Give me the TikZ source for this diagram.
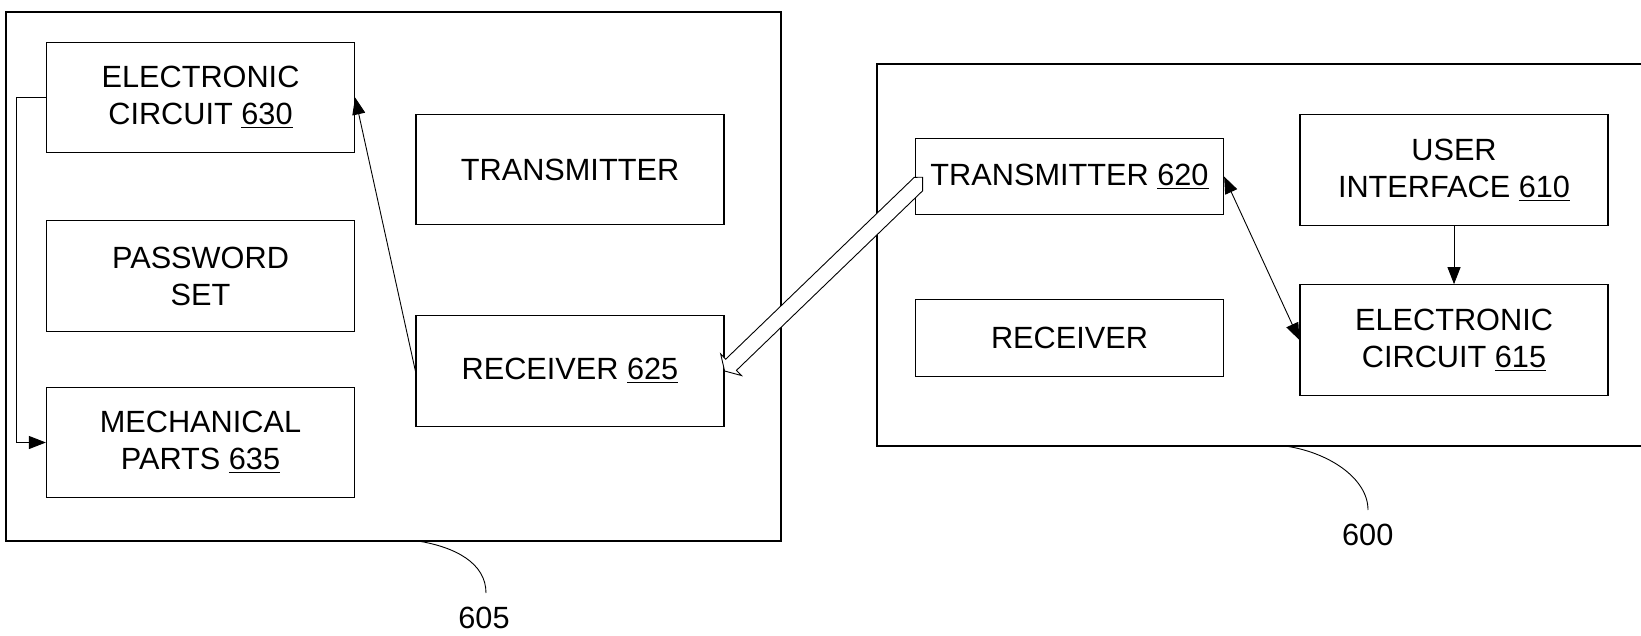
\documentclass[tikz,border=0pt]{standalone}
\usepackage{fontspec}
\setmainfont{Liberation Sans}
\usetikzlibrary{arrows.meta,calc}
\newcommand{\diafont}{\fontsize{15.35pt}{18.5pt}\selectfont}
\begin{document}
\begin{tikzpicture}[x=0.5pt,y=-0.5pt,
  box/.style={draw, line width=0.6pt, inner sep=0pt, align=center, font=\diafont},
  wide/.style={minimum width=154pt},
  tall/.style={minimum height=55.25pt},
  short/.style={minimum height=38.25pt},
  frame/.style={draw, line width=0.6pt},
  arr/.style={line width=0.45pt, -{Triangle[length=8.5pt,width=6.5pt]}},
  arrboth/.style={line width=0.45pt, {Triangle[length=8.5pt,width=6.5pt]}-{Triangle[length=8.5pt,width=6.5pt]}},
  leader/.style={line width=0.45pt},
  lbl/.style={inner sep=0pt, font=\diafont}
]
\useasboundingbox (0,0) rectangle (1641,636);

% outer frames
\draw[frame] (6,12) rectangle (781,541);
\coordinate (rtl) at (1641,64);
\coordinate (rbl) at (1641,446);
\draw[frame] (rtl) -- (877,64) -- (877,446) -- (rbl);

% left device boxes
\node[box, wide, tall] (ec630) at (200.5,97.5) {ELECTRONIC\\CIRCUIT \underline{630}};
\node[box, wide, tall] (pw) at (200.5,276) {PASSWORD\\SET};
\node[box, wide, tall] (mech) at (200.5,442.5) {MECHANICAL\\PARTS \underline{635}};
\node[box, wide, tall] (txl) at (570,169.5) {TRANSMITTER};
\node[box, wide, tall] (r625) at (570,371) {RECEIVER \underline{625}};

% right device boxes
\node[box, wide, short] (t620) at (1069.5,176.5) {TRANSMITTER \underline{620}};
\node[box, wide, short] (rxr) at (1069.5,338) {RECEIVER};
\node[box, wide, tall] (ui610) at (1454,170) {USER\\INTERFACE \underline{610}};
\node[box, wide, tall] (ec615) at (1454,340) {ELECTRONIC\\CIRCUIT \underline{615}};

% connectors
\draw[arr] (ec630.west) -- ++(-29,0) |- (mech.west);
\draw[arr] (r625.west) -- (ec630.east);
\draw[arrboth] (t620.east) -- (ec615.west);
\draw[arr] (ui610.south) -- (ec615.north);

% hollow block arrow from transmitter 620 to receiver 625
\begin{scope}[shift={(r625.east)}, rotate=43.96]
\draw[line width=0.45pt, fill=white, line join=miter]
  (0pt,0pt) -- (4.5pt,7.5pt) -- (4.5pt,3.875pt) -- (135.5pt,3.875pt)
  -- (138.5pt,1pt) -- (133.8pt,-3.875pt) -- (4.5pt,-3.875pt)
  -- (4.5pt,-7.5pt) -- cycle;
\end{scope}

% reference labels
\node[lbl] (l605) at (484,617.5) {605};
\node[lbl] (l600) at (1367.7,535) {600};
\coordinate (s605) at (418,541);
\coordinate (e605) at (486,593);
\coordinate (s600) at (1285,446);
\coordinate (e600) at (1368,510);
\draw[leader] (s605) .. controls (455,547) and (486,563) .. (e605);
\draw[leader] (s600) .. controls (1328,452) and (1368,478) .. (e600);
\end{tikzpicture}
\end{document}
